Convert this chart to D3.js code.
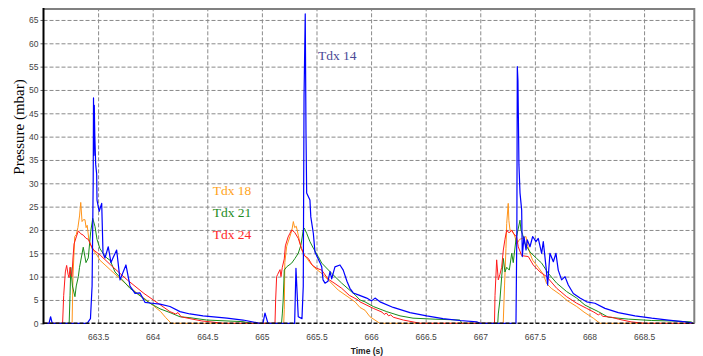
<!DOCTYPE html>
<html>
<head>
<meta charset="utf-8">
<script src="https://cdn.jsdelivr.net/npm/d3@7"></script>
<style>
  body { margin: 0; background: #fff; }
  svg { display: block; }
</style>
</head>
<body>
<div id="chart"></div>
<script>
// time axis ticks and pressure ticks
const x_ticks = [663.5, 664, 664.5, 665, 665.5, 666, 666.5, 667, 667.5, 668, 668.5];
const y_ticks = [0, 5, 10, 15, 20, 25, 30, 35, 40, 45, 50, 55, 60, 65];

const series_names = ["Tdx 18", "Tdx 21", "Tdx 24", "Tdx 14"];

// [time (s), pressure (mbar)]
const tdx14 = [
  [663.00,0],[663.05,0],[663.065,1.4],[663.08,0],
  [663.40,0],[663.43,1],[663.445,8],[663.455,30],[663.458,48.3],[663.462,36],[663.465,46.7],[663.47,40],
  [663.478,34],[663.487,32],[663.49,26.4],[663.51,24],[663.533,25.7],[663.545,15],[663.563,14],[663.593,16.4],
  [663.618,13],[663.636,14],[663.67,15.7],[663.701,9.3],[663.755,12.5],[663.792,8],[663.838,6.4],[663.884,6.5],
  [663.929,4.5],[663.994,4.3],[664.067,4.1],[664.158,3.6],[664.25,2.5],[664.341,2.0],[664.461,1.6],[664.68,1.1],
  [664.827,0.7],[664.983,0],
  [665.01,0],[665.028,2.2],[665.056,0],
  [665.30,0],[665.312,11.8],[665.333,1.4],[665.367,1],[665.379,8],[665.386,48.6],[665.397,66.3],[665.404,40.7],
  [665.41,27.9],[665.44,26.4],[665.448,22.8],[665.471,19.3],[665.486,15.3],[665.532,13],[665.548,12.1],[665.56,9.3],
  [665.578,8.6],[665.605,9],[665.624,11.1],[665.639,9.5],[665.669,12.1],[665.715,12.5],[665.745,11.4],[665.779,9],
  [665.806,7.5],[665.837,6.5],[665.883,6.1],[665.96,5.4],[666.005,4.8],[666.036,5.4],[666.082,4.6],[666.203,3.4],
  [666.356,2.3],[666.509,1.6],[666.658,1.0],[666.814,0.6],[666.967,0.3],[667.0,0],
  [667.327,0],[667.335,20],[667.339,55],[667.345,52],[667.354,34],[667.364,27.9],[667.379,24.3],[667.385,14.3],
  [667.40,18.6],[667.419,15.7],[667.43,17.9],[667.455,16.4],[667.48,18.6],[667.51,17.5],[667.531,18.2],[667.562,15],
  [667.577,17.5],[667.602,12.1],[667.617,8.2],[667.638,15],[667.669,13.2],[667.693,15],[667.714,11.4],[667.745,9.3],
  [667.776,10],[667.806,8.2],[667.852,6.4],[667.913,5.4],[667.974,4.6],[668.05,4.3],[668.142,3.2],[668.264,2.3],
  [668.417,1.6],[668.57,1.1],[668.722,0.7],[668.875,0.3],[668.96,0]
];

const tdx18 = [
  [663.00,0],[663.262,0],[663.27,10],[663.286,18.6],[663.30,19],[663.315,20.5],[663.33,23],[663.341,25.9],
  [663.353,21.8],[663.365,22.2],[663.38,22.2],[663.39,20.5],[663.40,21],[663.415,18],[663.43,17],[663.444,16],
  [663.46,15.5],[663.49,14.6],[663.517,13.5],[663.615,11.4],[663.69,9.8],[663.767,8.2],[663.84,6.8],[663.92,5.4],
  [664.0,3.9],[664.073,2.5],[664.12,1.2],[664.17,0],
  [665.20,0],[665.205,3],[665.21,13],[665.227,16.5],[665.257,18.6],[665.275,20],[665.288,21.8],[665.30,20.5],
  [665.315,20.8],[665.333,18.9],[665.36,16],[665.388,14.6],[665.41,14],[665.44,13],[665.486,11.8],[665.548,10.7],
  [665.62,9],[665.70,7.1],[665.78,5.8],[665.853,4.6],[665.898,3.4],[665.944,2.8],[665.99,1.4],[666.08,0],
  [667.21,0],[667.222,8],[667.235,16],[667.242,21.4],[667.256,25.7],[667.262,22],[667.272,20],[667.288,19.8],
  [667.302,19.5],[667.318,18.5],[667.335,17],[667.36,18],[667.388,18.2],[667.419,18.6],[667.43,17],[667.455,15],
  [667.48,13.5],[667.531,12],[667.577,10.5],[667.608,8.5],[667.65,7.5],[667.729,6.2],[667.80,4.8],[667.883,3.6],
  [667.95,2.4],[668.035,1.1],[668.096,0],[668.96,0]
];

const tdx21 = [
  [663.0,0],[663.235,0],[663.243,6],[663.25,12],[663.265,8],[663.288,5.7],[663.30,8],[663.319,10],[663.33,12],
  [663.364,16.3],[663.389,13],[663.41,14],[663.432,19.6],[663.451,22.5],[663.472,20.7],[663.49,18],[663.517,16],
  [663.545,15],[663.579,14],[663.61,13.5],[663.655,11],[663.792,7.5],[663.975,4.3],[664.067,3.1],[664.158,2.3],
  [664.25,1.4],[664.341,1.2],[664.494,0.7],[664.827,0.35],[664.9,0],
  [665.18,0],[665.187,2],[665.195,5],[665.205,11.4],[665.227,12.1],[665.273,12.9],[665.303,13.9],[665.333,15],
  [665.358,16.8],[665.379,20],[665.388,20.4],[665.41,19.3],[665.44,17.5],[665.471,16.1],[665.516,14.3],[665.548,12.9],
  [665.639,10.7],[665.731,8.6],[665.853,6.1],[665.898,5.0],[665.944,4.6],[666.02,3.6],[666.143,2.5],[666.265,1.6],
  [666.384,1.1],[666.567,0.9],[666.814,0.7],[666.833,0],
  [667.16,0],[667.165,2],[667.18,5],[667.196,10],[667.211,13.9],[667.226,11],[667.242,12],[667.266,11.4],
  [667.288,15],[667.302,13],[667.327,18],[667.364,22.1],[667.372,20],[667.388,19],[667.41,17],[667.455,15.3],
  [667.516,13.9],[667.562,12.9],[667.623,10.7],[667.70,8.6],[667.791,6.8],[667.883,5.4],[667.959,3.9],[668.081,2.5],
  [668.172,1.3],[668.355,0.9],[668.57,0.6],[668.753,0.5],[668.936,0.3]
];

const tdx24 = [
  [663.0,0],[663.175,0],[663.185,6],[663.2,11],[663.212,12.4],[663.225,10.5],[663.234,9.8],[663.243,12],
  [663.25,10.5],[663.26,10],[663.27,14],[663.28,17],[663.30,18.5],[663.319,19.8],[663.34,19.2],[663.364,18.9],
  [663.39,18.2],[663.41,18],[663.432,16.8],[663.46,15.7],[663.52,14.6],[663.615,12.5],[663.767,9.3],[663.92,6.4],
  [664.073,3.9],[664.158,2.5],[664.21,2.0],[664.232,2.3],[664.26,1.4],[664.341,1],[664.45,0.5],[664.57,0.2],[664.65,0],
  [665.12,0],[665.126,5],[665.135,10],[665.145,10.5],[665.166,11.5],[665.175,10],[665.187,12],[665.205,13.8],
  [665.215,16.6],[665.24,18.5],[665.257,19.3],[665.273,20],[665.30,19.5],[665.333,18.2],[665.364,16],[665.39,14.5],
  [665.425,13.9],[665.46,12.5],[665.50,11.8],[665.548,11.4],[665.605,9.5],[665.67,8.5],[665.731,7.5],[665.80,6],
  [665.88,5],[665.898,4.6],[666.02,3.2],[666.10,2.4],[666.12,1.9],[666.14,2.2],[666.16,1.6],[666.18,1.8],
  [666.203,1.3],[666.295,0.7],[666.384,0.3],[666.45,0],
  [667.13,0],[667.135,6],[667.15,13.6],[667.165,9.3],[667.18,10.5],[667.196,12],[667.211,15.7],[667.226,18],
  [667.242,20],[667.256,19.5],[667.272,19.5],[667.288,20],[667.302,19.3],[667.333,18.5],[667.348,16.4],[667.379,14.5],
  [667.44,14.3],[667.485,12.5],[667.547,11],[667.608,10],[667.70,7.5],[667.791,5.7],[667.883,4.3],[667.974,3.2],
  [668.04,2.4],[668.081,1.8],[668.1,2.1],[668.12,1.5],[668.203,1.3],[668.264,0.9],[668.381,0.3],[668.508,0],[668.96,0]
];

// label positions given as [time, pressure] (text baseline)
const label_pos = [[664.549, 27.5], [664.549, 22.8], [664.549, 18.1], [665.514, 56.5]];

const width = 703, height = 356;
const colors = ["#ff9419", "#1a8c1a", "#ff1a1a", "#0000ff"];
const label_colors = ["#ffa31a", "#1e8c1e", "#ff2a2a", "#4a4a96"];

const svg = d3.select("#chart").append("svg")
  .attr("width", width)
  .attr("height", height);

svg.append("rect").attr("width", width).attr("height", height).attr("fill", "#fff");

const x_scale = d3.scaleLinear().domain([663, 668.96]).range([43.5, 694.3]);
const y_scale = d3.scaleLinear().domain([0, 67.35]).range([323.3, 9]);

const plot_top = y_scale.range()[1], plot_bottom = y_scale.range()[0];
const plot_left = x_scale.range()[0], plot_right = x_scale.range()[1];

// vertical gridlines
svg.append("g")
  .attr("class", "grid")
  .attr("transform", "translate(0," + plot_bottom + ")")
  .call(d3.axisBottom(x_scale).tickValues(x_ticks).tickSize(-(plot_bottom - plot_top)).tickFormat(() => ""))
  .call(g => g.select(".domain").remove())
  .selectAll("line")
    .attr("stroke", "#8a8a8a")
    .attr("stroke-dasharray", "4,2");

// horizontal gridlines (zero line is drawn darker later)
svg.append("g")
  .attr("class", "grid")
  .attr("transform", "translate(" + plot_left + ",0)")
  .call(d3.axisLeft(y_scale).tickValues(y_ticks.filter(v => v > 0)).tickSize(-(plot_right - plot_left)).tickFormat(() => ""))
  .call(g => g.select(".domain").remove())
  .selectAll("line")
    .attr("stroke", "#8a8a8a")
    .attr("stroke-dasharray", "4,2");

// tick labels
const x_axis = svg.append("g")
  .attr("transform", "translate(0," + plot_bottom + ")")
  .call(d3.axisBottom(x_scale).tickValues(x_ticks).tickSize(0).tickPadding(11).tickFormat(d3.format("")));
x_axis.select(".domain").remove();
x_axis.selectAll("text")
  .attr("font-family", "Liberation Sans, Arial, sans-serif")
  .attr("font-size", "8.5px")
  .attr("fill", "#444");

const y_axis = svg.append("g")
  .attr("transform", "translate(" + plot_left + ",0)")
  .call(d3.axisLeft(y_scale).tickValues(y_ticks).tickSize(3).tickPadding(2));
y_axis.select(".domain").remove();
y_axis.selectAll("line").attr("stroke", "#666");
y_axis.selectAll("text")
  .attr("font-family", "Liberation Sans, Arial, sans-serif")
  .attr("font-size", "8.5px")
  .attr("fill", "#444");

// series
const line = d3.line()
  .x(d => x_scale(d[0]))
  .y(d => y_scale(d[1]));

const all_series = [tdx18, tdx21, tdx24, tdx14];
svg.append("g").selectAll("path")
  .data(all_series)
  .enter().append("path")
    .attr("d", line)
    .attr("fill", "none")
    .attr("stroke", (d, i) => colors[i])
    .attr("stroke-width", (d, i) => i == 3 ? 1.2 : 1)
    .attr("stroke-linejoin", "round");

// zero line
svg.append("line")
  .attr("x1", plot_left).attr("x2", plot_right)
  .attr("y1", y_scale(0)).attr("y2", y_scale(0))
  .attr("stroke", "#111")
  .attr("stroke-width", 1.5)
  .attr("stroke-dasharray", "4,2");

// frame: gray top/right, black left
svg.append("path")
  .attr("d", "M" + plot_left + "," + plot_top + "H" + plot_right + "V" + plot_bottom)
  .attr("fill", "none")
  .attr("stroke", "#808080")
  .attr("stroke-width", 2);
svg.append("line")
  .attr("x1", plot_left).attr("x2", plot_left)
  .attr("y1", plot_top - 1).attr("y2", plot_bottom + 1)
  .attr("stroke", "#000")
  .attr("stroke-width", 2);

// series labels
svg.append("g").selectAll("text")
  .data(series_names)
  .enter().append("text")
    .attr("x", (d, i) => x_scale(label_pos[i][0]))
    .attr("y", (d, i) => y_scale(label_pos[i][1]))
    .attr("font-family", "Liberation Serif, Times New Roman, serif")
    .attr("font-size", "13.5px")
    .attr("fill", (d, i) => label_colors[i])
    .text(d => d);

// axis titles
svg.append("text")
  .attr("transform", "translate(24,127) rotate(-90)")
  .attr("text-anchor", "middle")
  .attr("font-family", "Liberation Serif, Times New Roman, serif")
  .attr("font-size", "15px")
  .attr("fill", "#000")
  .text("Pressure (mbar)");

svg.append("text")
  .attr("x", (plot_left + plot_right) / 2 - 2)
  .attr("y", 354)
  .attr("text-anchor", "middle")
  .attr("font-family", "Liberation Sans, Arial, sans-serif")
  .attr("font-size", "8.5px")
  .attr("font-weight", "bold")
  .attr("fill", "#222")
  .text("Time (s)");
</script>
</body>
</html>
